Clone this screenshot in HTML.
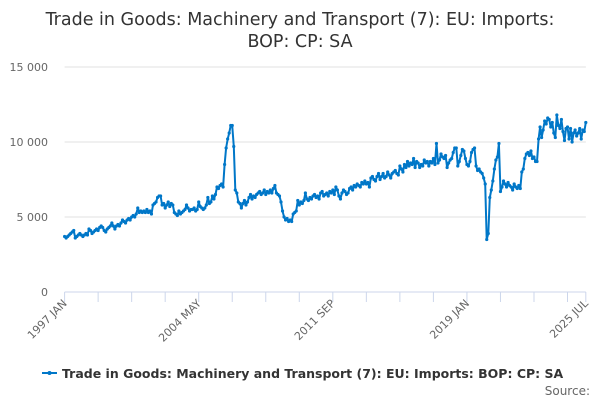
<!DOCTYPE html>
<html><head><meta charset="utf-8"><style>
body{margin:0;background:#fff;}
svg{display:block;font-family:"DejaVu Sans","Liberation Sans",sans-serif;}
</style></head><body>
<svg id="chart" width="600" height="400">
<text x="300" y="25" text-anchor="middle" font-size="17.5" fill="#333">Trade in Goods: Machinery and Transport (7): EU: Imports:</text>
<text x="300" y="47" text-anchor="middle" font-size="17.5" fill="#333">BOP: CP: SA</text>
<g id="grid"></g><g id="xaxis"></g><g id="series"></g>
<g>
<line x1="42" y1="373" x2="57" y2="373" stroke="#0077c8" stroke-width="2"/>
<circle cx="49.5" cy="373" r="2" fill="#0077c8"/>
<text x="62" y="378" font-size="12.5" font-weight="bold" fill="#333">Trade in Goods: Machinery and Transport (7): EU: Imports: BOP: CP: SA</text>
</g>
<text x="590" y="395" text-anchor="end" font-size="12" fill="#666">Source:</text>
</svg>
<script>
const yTicks=[0,5000,10000,15000];
const yTickLabels=["0","5 000","10 000","15 000"];
const xTickLabels=["1997 JAN","2004 MAY","2011 SEP","2019 JAN","2025 JUL"];
const xTickIndex=[0,88,176,264,342];
const values=[
3.7,3.6,3.7,3.8,3.9,4.0,4.1,3.6,3.7,3.8,3.9,3.8,
3.7,3.8,3.9,3.8,4.2,4.1,3.9,4.0,4.1,4.2,4.1,4.3,
4.4,4.3,4.1,4.0,4.2,4.3,4.4,4.6,4.4,4.2,4.4,4.5,
4.4,4.6,4.8,4.7,4.6,4.8,4.9,4.8,5.0,5.1,5.0,5.2,
5.6,5.3,5.4,5.3,5.4,5.3,5.5,5.3,5.4,5.2,5.8,5.9,
6.0,6.3,6.4,6.4,5.8,5.9,5.6,5.8,6.0,5.7,5.9,5.8,
5.3,5.2,5.1,5.4,5.2,5.3,5.4,5.5,5.8,5.6,5.4,5.5,
5.5,5.6,5.4,5.5,6.0,5.7,5.6,5.5,5.6,5.8,6.3,5.9,
6.0,6.4,6.2,6.5,7.0,6.9,7.1,7.2,7.0,8.5,9.6,10.2,
10.6,11.1,11.1,9.7,6.8,6.6,6.0,5.9,5.6,5.9,6.1,5.8,
6.0,6.3,6.5,6.2,6.4,6.3,6.5,6.6,6.7,6.5,6.6,6.8,
6.5,6.7,6.6,6.8,6.6,6.9,7.1,6.6,6.5,6.4,6.0,5.4,
5.0,4.8,4.9,4.7,4.8,4.7,5.2,5.3,5.4,6.1,5.8,6.0,
5.9,6.1,6.6,6.2,6.1,6.3,6.2,6.4,6.5,6.3,6.4,6.2,
6.6,6.7,6.4,6.5,6.6,6.4,6.7,6.6,6.8,6.5,7.0,6.8,
6.4,6.2,6.6,6.8,6.7,6.5,6.6,6.9,7.0,6.8,7.1,7.0,
7.2,7.1,7.0,7.3,7.2,7.4,7.2,7.3,7.0,7.6,7.7,7.5,
7.4,7.7,7.9,7.5,7.7,7.9,7.6,7.7,8.0,7.8,7.6,7.9,
8.0,8.1,7.9,7.8,8.4,8.2,8.0,8.5,8.3,8.7,8.4,8.6,
8.5,8.9,8.3,8.7,8.6,8.3,8.5,8.4,8.8,8.6,8.7,8.4,
8.7,8.6,8.9,8.5,9.9,8.6,8.8,9.2,9.0,8.9,9.1,8.3,
8.6,8.8,8.9,9.3,9.6,9.6,8.4,8.7,9.1,9.5,9.4,8.9,
8.5,8.4,8.7,9.3,9.5,9.6,8.4,8.1,8.2,8.0,7.9,7.6,
7.2,3.5,3.9,6.3,6.8,7.4,8.2,8.8,9.0,9.9,6.7,7.0,
7.4,7.2,7.0,7.3,7.1,7.0,6.8,7.2,7.0,6.9,7.1,6.9,
8.0,8.2,8.9,9.2,9.3,9.1,9.4,8.9,9.0,8.7,8.7,10.2,
11.0,10.3,10.8,11.4,11.2,11.6,11.5,11.0,11.3,10.6,10.3,11.8,
11.1,10.9,11.5,10.7,10.1,10.9,11.0,10.2,10.9,10.0,10.6,10.8,
10.4,10.6,10.9,10.2,10.8,10.7,11.3
];
const NS="http://www.w3.org/2000/svg";
const X0=64.6,X1=585.8,Y0=292,YPER=15;
const n=values.length;
function xs(i){return X0+(X1-X0)*i/(n-1);}
function ys(v){return Y0-v*YPER;}
function mk(t,a,p){const e=document.createElementNS(NS,t);for(const k in a)e.setAttribute(k,a[k]);p.appendChild(e);return e;}
const grid=document.getElementById('grid');
yTicks.forEach((t,i)=>{
  if(t>0){const l=mk('line',{x1:X0,x2:X1,y1:ys(t/1000),y2:ys(t/1000),stroke:'#e0e0e0','stroke-width':1},grid);
  
  }
  const tx=mk('text',{x:48,y:ys(t/1000)+4,'text-anchor':'end','font-size':11,fill:'#666'},grid);
  tx.textContent=yTickLabels[i];
  
  
});
const xa=document.getElementById('xaxis');
const ax=mk('line',{x1:X0,x2:X1,y1:Y0,y2:Y0,stroke:'#ccd6eb','stroke-width':1},xa);


for(let m=0;m<n;m+=22){
  const t=mk('line',{x1:xs(m),x2:xs(m),y1:Y0,y2:Y0+10,stroke:'#ccd6eb'},xa);
  
  
}
const te=mk('line',{x1:xs(n-1),x2:xs(n-1),y1:Y0,y2:Y0+10,stroke:'#ccd6eb'},xa);


xTickLabels.forEach((lb,i)=>{
  const x=xs(xTickIndex[i])+3,y=Y0+12;
  const t=mk('text',{x:x,y:y,'text-anchor':'end','font-size':11,fill:'#666',transform:`rotate(-45 ${x} ${y})`},xa);
  t.textContent=lb;
  
  
});
const s=document.getElementById('series');
const pts=values.map((v,i)=>xs(i).toFixed(1)+','+ys(v).toFixed(1)).join(' ');
const pl=mk('polyline',{points:pts,fill:'none',stroke:'#0077c8','stroke-width':2,'stroke-linejoin':'round'},s);


values.forEach((v,i)=>{
  const c=mk('circle',{cx:xs(i),cy:ys(v),r:1.6,fill:'#0077c8'},s);
  
  
});
</script>
</body></html>
